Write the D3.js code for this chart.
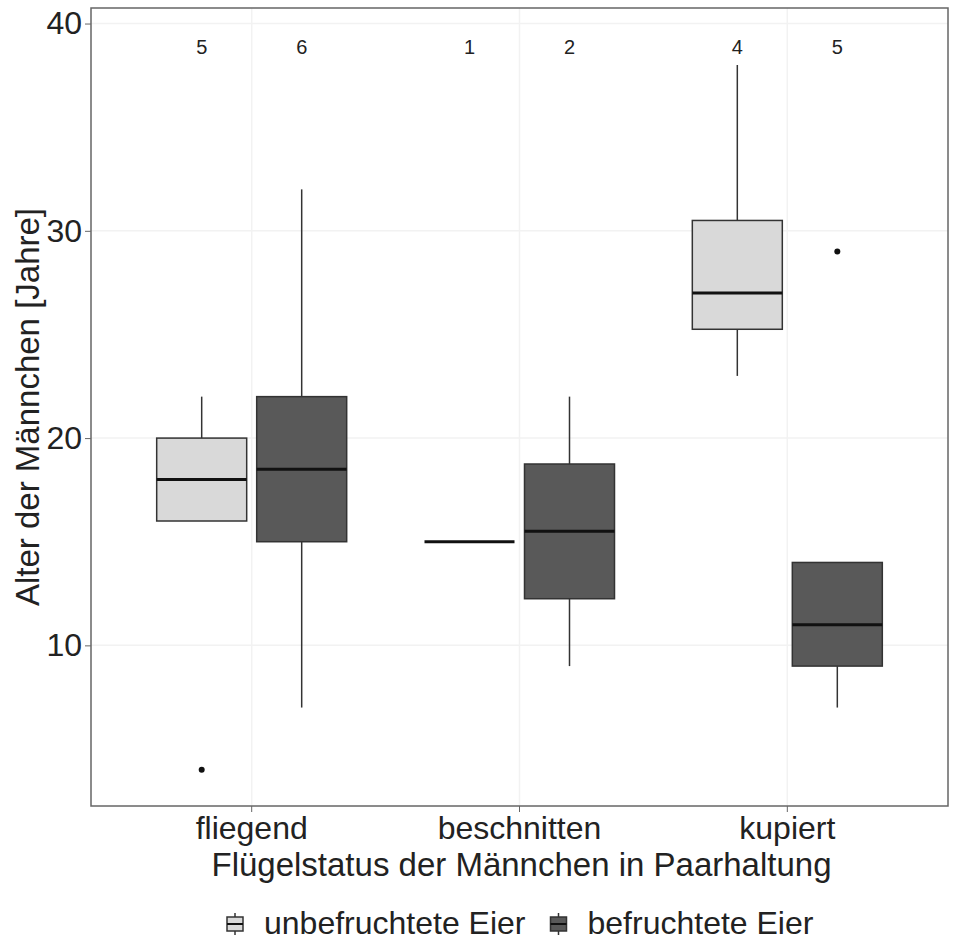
<!DOCTYPE html>
<html>
<head>
<meta charset="utf-8">
<script src="https://cdn.jsdelivr.net/npm/d3@7"></script>
<style>
	body { margin: 0; background: #fff; }
	text { font-family: "Liberation Sans", Arial, sans-serif; fill: #222; }
</style>
</head>
<body>
<svg id="chart"></svg>
<script>
// categories and groups
const categories = ["fliegend", "beschnitten", "kupiert"];
const groups = ["unbefruchtete Eier", "befruchtete Eier"];

// one entry per box, order: category x group
const boxCategory = ["fliegend", "fliegend", "beschnitten", "beschnitten", "kupiert", "kupiert"];
const boxGroup = ["unbefruchtete Eier", "befruchtete Eier", "unbefruchtete Eier", "befruchtete Eier", "unbefruchtete Eier", "befruchtete Eier"];
const whiskerLow = [16, 7, 15, 9, 23, 7];
const q1 = [16, 15, 15, 12.25, 25.25, 9];
const median = [18, 18.5, 15, 15.5, 27, 11];
const q3 = [20, 22, 15, 18.75, 30.5, 14];
const whiskerHigh = [22, 32, 15, 22, 38, 14];
const outliers = [[4], [], [], [], [], [29]];
const counts = [5, 6, 1, 2, 4, 5];
const countLabelY = 39;

const yTicks = [10, 20, 30, 40];

const fills = {"unbefruchtete Eier": "#d9d9d9", "befruchtete Eier": "#595959"};

let canvas = {"width": 953,
	"height": 942,
	"marginLeft": 91,
	"marginTop": 8,
	"marginRight": 5,
	"marginBottom": 136};

const svg = d3.select("#chart")
	.attr("width", canvas.width)
	.attr("height", canvas.height);

const plotRight = canvas.width - canvas.marginRight;
const plotBottom = canvas.height - canvas.marginBottom;

const xScale = d3.scaleBand()
	.domain(categories)
	.range([canvas.marginLeft, plotRight])
	.paddingInner(0)
	.paddingOuter(0.1);

// dodge inside a category
const xSub = d3.scaleBand()
	.domain(groups)
	.range([-100, 100])
	.paddingInner(0.1)
	.paddingOuter(0.05);

const yScale = d3.scaleLinear()
	.domain([2.25, 40.75])
	.range([plotBottom, canvas.marginTop]);

// faint grid
svg.selectAll(".grid-y")
	.data(yTicks)
	.join("line")
	.attr("class", "grid-y")
	.attr("x1", canvas.marginLeft)
	.attr("x2", plotRight)
	.attr("y1", d => yScale(d))
	.attr("y2", d => yScale(d))
	.attr("stroke", "#f2f2f2")
	.attr("stroke-width", 1.5);

svg.selectAll(".grid-x")
	.data(categories)
	.join("line")
	.attr("class", "grid-x")
	.attr("x1", d => xScale(d) + xScale.bandwidth() / 2)
	.attr("x2", d => xScale(d) + xScale.bandwidth() / 2)
	.attr("y1", canvas.marginTop)
	.attr("y2", plotBottom)
	.attr("stroke", "#f2f2f2")
	.attr("stroke-width", 1.5);

let boxes = boxCategory.map((c, i) => ({
	category: c,
	group: boxGroup[i],
	lo: whiskerLow[i],
	q1: q1[i],
	med: median[i],
	q3: q3[i],
	hi: whiskerHigh[i],
	out: outliers[i],
	n: counts[i]
}));

const boxX = d => xScale(d.category) + xScale.bandwidth() / 2 + xSub(d.group);
const boxMid = d => boxX(d) + xSub.bandwidth() / 2;

// whiskers
svg.selectAll(".whisker-hi")
	.data(boxes)
	.join("line")
	.attr("class", "whisker-hi")
	.attr("x1", boxMid)
	.attr("x2", boxMid)
	.attr("y1", d => yScale(d.q3))
	.attr("y2", d => yScale(d.hi))
	.attr("stroke", "#333")
	.attr("stroke-width", 1.5);

svg.selectAll(".whisker-lo")
	.data(boxes)
	.join("line")
	.attr("class", "whisker-lo")
	.attr("x1", boxMid)
	.attr("x2", boxMid)
	.attr("y1", d => yScale(d.q1))
	.attr("y2", d => yScale(d.lo))
	.attr("stroke", "#333")
	.attr("stroke-width", 1.5);

svg.selectAll(".box")
	.data(boxes)
	.join("rect")
	.attr("class", "box")
	.attr("x", boxX)
	.attr("y", d => yScale(d.q3))
	.attr("width", xSub.bandwidth())
	.attr("height", d => yScale(d.q1) - yScale(d.q3))
	.attr("fill", d => fills[d.group])
	.attr("stroke", "#333")
	.attr("stroke-width", 1.5);

svg.selectAll(".median")
	.data(boxes)
	.join("line")
	.attr("class", "median")
	.attr("x1", boxX)
	.attr("x2", d => boxX(d) + xSub.bandwidth())
	.attr("y1", d => yScale(d.med))
	.attr("y2", d => yScale(d.med))
	.attr("stroke", "#111")
	.attr("stroke-width", 3);

let outlierPts = [];
boxes.forEach(b => b.out.forEach(v => outlierPts.push({box: b, value: v})));

svg.selectAll(".outlier")
	.data(outlierPts)
	.join("circle")
	.attr("class", "outlier")
	.attr("cx", d => boxMid(d.box))
	.attr("cy", d => yScale(d.value))
	.attr("r", 3)
	.attr("fill", "#111");

svg.selectAll(".count")
	.data(boxes)
	.join("text")
	.attr("class", "count")
	.text(d => d.n)
	.attr("x", boxMid)
	.attr("y", yScale(countLabelY))
	.attr("dy", "0.5em")
	.attr("text-anchor", "middle")
	.attr("font-size", 20);

// panel border
svg.append("rect")
	.attr("x", canvas.marginLeft)
	.attr("y", canvas.marginTop)
	.attr("width", plotRight - canvas.marginLeft)
	.attr("height", plotBottom - canvas.marginTop)
	.attr("fill", "none")
	.attr("stroke", "#666")
	.attr("stroke-width", 1.5);

// axes
const yAxis = svg.append("g")
	.attr("transform", `translate(${canvas.marginLeft},0)`)
	.call(d3.axisLeft(yScale).tickValues(yTicks).tickSize(6).tickPadding(3));
yAxis.select(".domain").remove();
yAxis.selectAll("line").attr("stroke", "#666");
yAxis.selectAll("text")
	.attr("font-size", 32)
	.attr("font-family", "Liberation Sans, Arial, sans-serif")
	.attr("fill", "#333");

const xAxis = svg.append("g")
	.attr("transform", `translate(0,${plotBottom})`)
	.call(d3.axisBottom(xScale).tickSize(6).tickPadding(4));
xAxis.select(".domain").remove();
xAxis.selectAll("line").attr("stroke", "#666");
xAxis.selectAll("text")
	.attr("font-size", 32)
	.attr("font-family", "Liberation Sans, Arial, sans-serif")
	.attr("fill", "#333");

// axis titles
svg.append("text")
	.text("Flügelstatus der Männchen in Paarhaltung")
	.attr("x", (canvas.marginLeft + plotRight) / 2 + 2)
	.attr("y", 876)
	.attr("text-anchor", "middle")
	.attr("font-size", 33);

svg.append("text")
	.text("Alter der Männchen [Jahre]")
	.attr("transform", `translate(39, ${(canvas.marginTop + plotBottom) / 2}) rotate(-90)`)
	.attr("text-anchor", "middle")
	.attr("font-size", 33);

// legend
const legend = svg.append("g").attr("class", "legend");
let lx = 226;
const keyTop = 913;
groups.forEach(g => {
	const k = legend.append("g").attr("transform", `translate(${lx},${keyTop})`);
	k.append("line").attr("x1", 9).attr("x2", 9).attr("y1", 0).attr("y2", 22)
		.attr("stroke", "#333").attr("stroke-width", 1.5);
	k.append("rect").attr("x", 1).attr("y", 4).attr("width", 16).attr("height", 14)
		.attr("fill", fills[g]).attr("stroke", "#333").attr("stroke-width", 1.5);
	k.append("line").attr("x1", 1).attr("x2", 17).attr("y1", 11).attr("y2", 11)
		.attr("stroke", "#111").attr("stroke-width", 2);
	const t = legend.append("text")
		.text(g)
		.attr("x", lx + 38)
		.attr("y", 934)
		.attr("font-size", 32);
	lx = lx + 38 + t.node().getComputedTextLength() + 24;
});
</script>
</body>
</html>
